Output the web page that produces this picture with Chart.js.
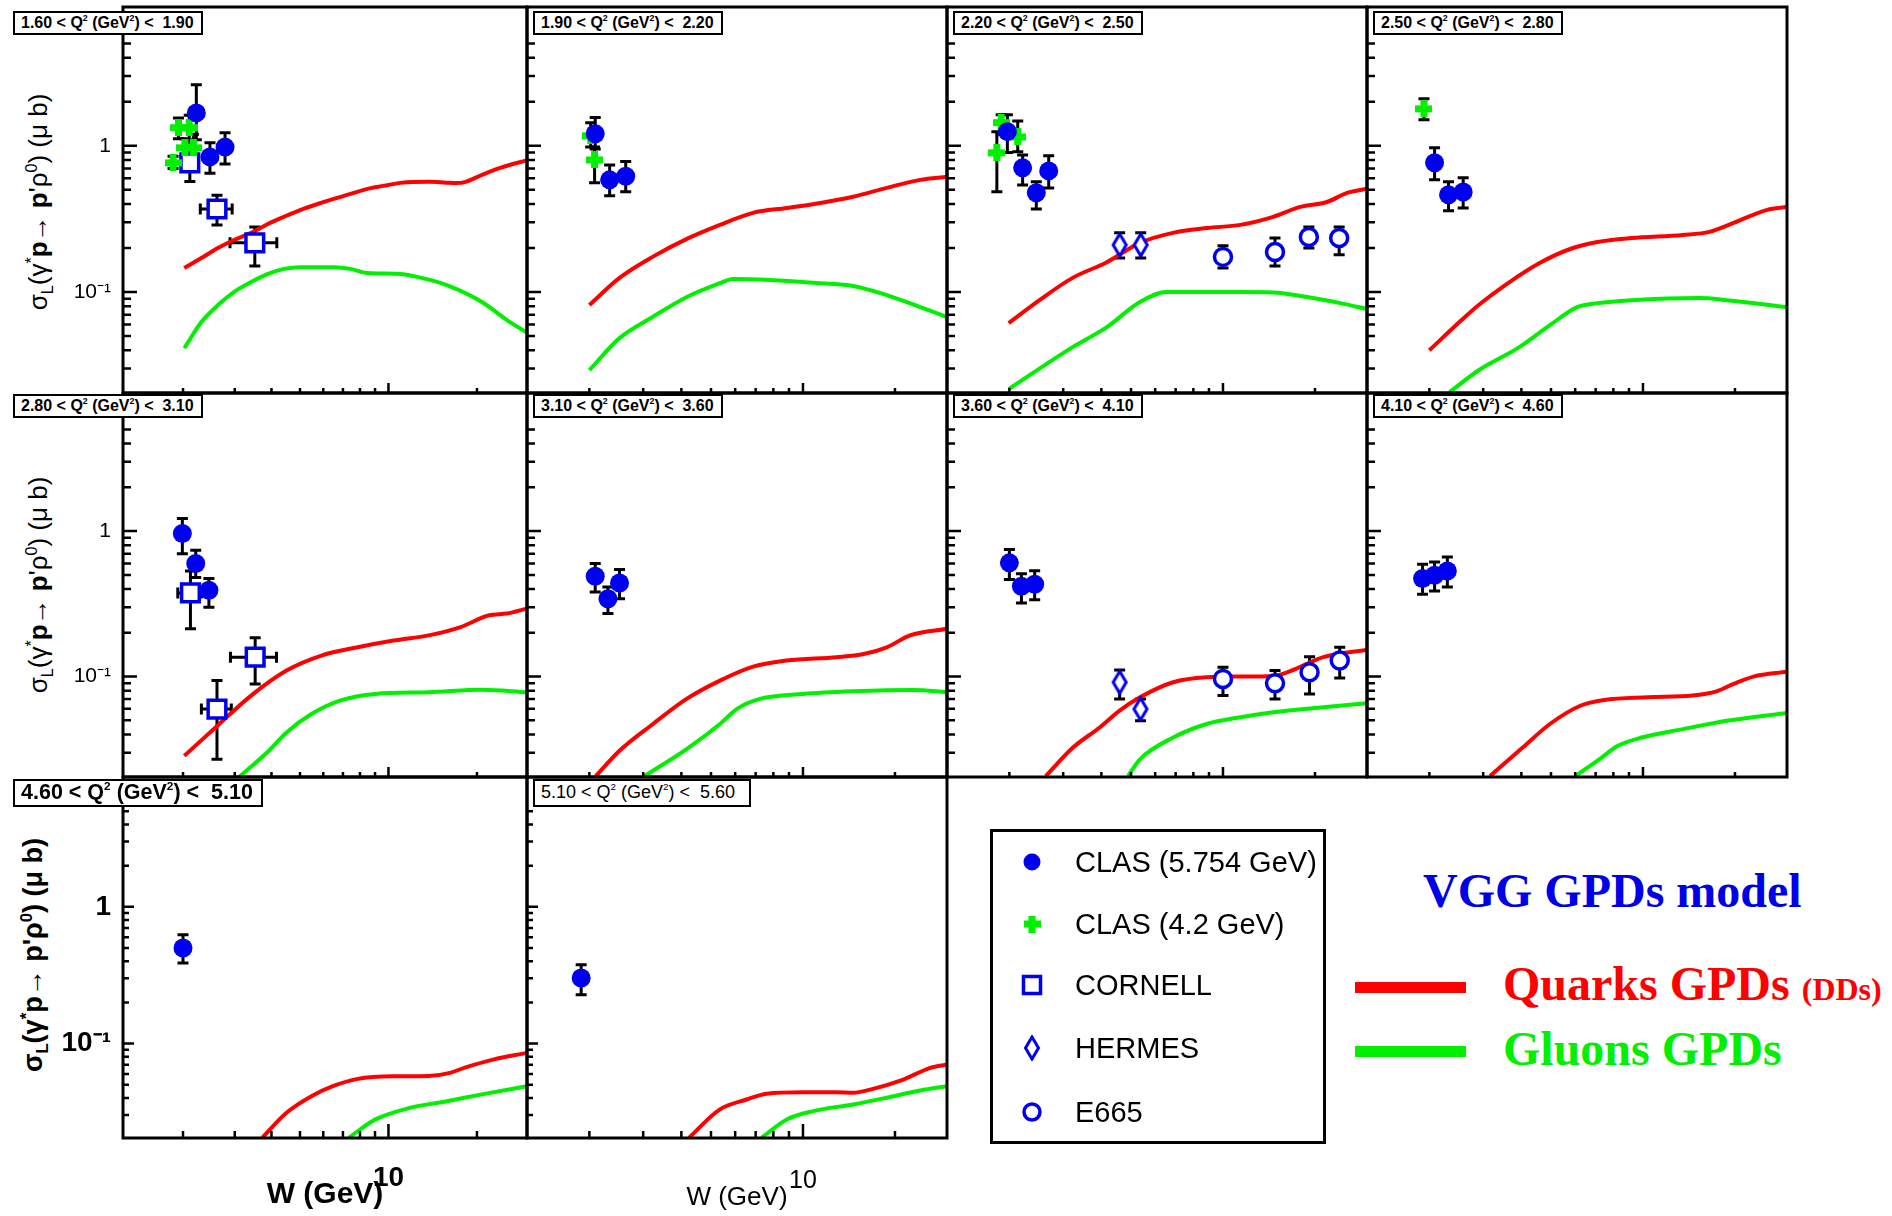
<!DOCTYPE html>
<html>
<head>
<meta charset="utf-8">
<title>sigma_L(gamma* p -> p rho0) vs W</title>
<script src="https://cdn.jsdelivr.net/npm/chart.js@4.4.1/dist/chart.umd.min.js"></script>
<style>
  html, body { margin: 0; padding: 0; background: #fff; }
  body { position: relative; width: 1892px; height: 1216px; overflow: hidden;
         font-family: "Liberation Sans", Arial, Helvetica, sans-serif; color: #000; }
  canvas { position: absolute; }
  .qbox { position: absolute; box-sizing: border-box; border: 2.5px solid #000; background: #fff;
          white-space: nowrap; padding-left: 6px; }
  .qbox sup { font-size: 55%; vertical-align: 0.8em; line-height: 0; }
  .ytitle { position: absolute; white-space: nowrap; transform: translate(-50%, -50%) rotate(-90deg); }
  .ytitle sub, .ytitle sup { font-size: 62%; line-height: 0; }
  #legend { position: absolute; left: 990px; top: 829px; width: 336px; height: 315px;
            box-sizing: border-box; border: 3px solid #000; }
  .lgtext { position: absolute; font-size: 29px; line-height: 34px; white-space: nowrap; }
  .model { position: absolute; font-family: "Liberation Serif", "Times New Roman", serif; font-weight: bold;
           white-space: nowrap; line-height: 48px; font-size: 48px; }
</style>
</head>
<body>

<div class="ytitle" style="left:38px; top:202px; font-size:26px;">σ<sub>L</sub>(γ<sup>*</sup><b>p</b>→ <b>p</b>'ρ<sup>0</sup>) (μ b)</div>
<div class="ytitle" style="left:38px; top:585px; font-size:26px;">σ<sub>L</sub>(γ<sup>*</sup><b>p</b>→ <b>p</b>'ρ<sup>0</sup>) (μ b)</div>
<div class="ytitle" style="left:33px; top:955px; font-size:27px; font-weight:bold;">σ<sub>L</sub>(γ<sup>*</sup>p→ p'ρ<sup>0</sup>) (μ b)</div>

<div id="legend"></div>
<canvas id="legendMarks" width="336" height="315" style="left:990px; top:829px;"></canvas>
<div class="lgtext" style="left:1075px; top:845px;">CLAS (5.754 GeV)</div>
<div class="lgtext" style="left:1075px; top:907px;">CLAS (4.2 GeV)</div>
<div class="lgtext" style="left:1075px; top:968px;">CORNELL</div>
<div class="lgtext" style="left:1075px; top:1031px;">HERMES</div>
<div class="lgtext" style="left:1075px; top:1095px;">E665</div>

<div class="model" style="left:1423px; top:867px; color:#0000e8;">VGG GPDs model</div>
<div id="qline" style="position:absolute; left:1355px; top:982px; width:111px; height:11px; background:#ff0000;"></div>
<div id="gline" style="position:absolute; left:1355px; top:1046px; width:111px; height:11px; background:#00f000;"></div>
<div class="model" style="left:1503px; top:960px; color:#ff0000;">Quarks GPDs <span style="font-size:32px;">(DDs)</span></div>
<div class="model" style="left:1503px; top:1025px; color:#00f000;">Gluons GPDs</div>

<script>
// Q^2 bin edges (GeV^2), one panel per bin
const Q2_EDGES = ['1.60', '1.90', '2.20', '2.50', '2.80', '3.10', '3.60', '4.10', '4.60', '5.10', '5.60'];

// axis ranges and ticks
const X_MIN = 1.25, X_MAX = 29.6;
const Y_MIN = 0.0204, Y_MAX = 8.9;
const X_TICKS = [10];
const X_TICK_TEXT = ['10'];
const X_MINOR = [2, 3, 4, 5, 6, 7, 8, 9, 20];
const Y_TICKS = [0.1, 1];
const Y_TICK_TEXT = ['10⁻¹', '1'];
const Y_MINOR = [0.03, 0.04, 0.05, 0.06, 0.07, 0.08, 0.09, 0.2, 0.3, 0.4, 0.5, 0.6, 0.7, 0.8, 0.9, 2, 3, 4, 5];

// data per panel: [W, sigma, sigmaLow, sigmaHigh, (Wlow, Whigh)]
const CLAS57 = [
  [[2.22, 1.68, 1.10, 2.62], [2.47, 0.84, 0.65, 1.05], [2.78, 0.98, 0.75, 1.23]],
  [[2.09, 1.21, 0.95, 1.56], [2.33, 0.585, 0.455, 0.74], [2.63, 0.62, 0.485, 0.78]],
  [[1.97, 1.25, 0.90, 1.63], [2.21, 0.707, 0.54, 0.867], [2.45, 0.477, 0.37, 0.567], [2.69, 0.674, 0.515, 0.854]],
  [[2.08, 0.765, 0.585, 0.97], [2.31, 0.462, 0.36, 0.567], [2.58, 0.484, 0.376, 0.604]],
  [[1.99, 0.964, 0.70, 1.22], [2.21, 0.599, 0.48, 0.74], [2.45, 0.392, 0.30, 0.472]],
  [[2.09, 0.49, 0.382, 0.60], [2.30, 0.343, 0.271, 0.413], [2.51, 0.44, 0.343, 0.545]],
  [[2.00, 0.605, 0.464, 0.748], [2.19, 0.418, 0.32, 0.51], [2.42, 0.431, 0.338, 0.533]],
  [[1.90, 0.472, 0.368, 0.592], [2.08, 0.497, 0.387, 0.614], [2.29, 0.532, 0.413, 0.665]],
  [[2.00, 0.50, 0.388, 0.625]],
  [[1.88, 0.302, 0.228, 0.377]]
];
const CLAS42 = [
  [[1.85, 0.765, 0.70, 0.85], [1.93, 1.33, 1.12, 1.55], [2.10, 1.33, 1.05, 1.62], [2.03, 0.97, 0.85, 1.12], [2.17, 0.97, 0.80, 1.20]],
  [[2.02, 1.17, 0.98, 1.44], [2.08, 0.80, 0.56, 0.98]],
  [[1.82, 0.895, 0.485, 1.25], [1.88, 1.44, 1.20, 1.63], [2.13, 1.15, 0.91, 1.48]],
  [[1.92, 1.79, 1.51, 2.10]],
  [], [], [], [], [], []
];
const CORNELL = [
  [[2.11, 0.765, 0.57, 0.90], [2.61, 0.37, 0.288, 0.46, 2.29, 2.94], [3.51, 0.217, 0.151, 0.279, 2.89, 4.17]],
  [], [], [],
  [[2.12, 0.376, 0.213, 0.532, 1.92, 2.31], [2.61, 0.0598, 0.027, 0.0938, 2.31, 2.92], [3.52, 0.136, 0.089, 0.185, 2.90, 4.16]],
  [], [], [], [], []
];
const HERMES = [
  [], [],
  [[4.59, 0.21, 0.171, 0.254], [5.38, 0.21, 0.171, 0.254]],
  [], [], [],
  [[4.59, 0.0914, 0.0702, 0.111], [5.37, 0.0598, 0.0497, 0.0702]],
  [], [], []
];
const E665 = [
  [], [],
  [[10.0, 0.174, 0.146, 0.207], [14.8, 0.188, 0.151, 0.234], [19.1, 0.238, 0.20, 0.279], [24.0, 0.234, 0.18, 0.279]],
  [], [], [],
  [[10.0, 0.0964, 0.0741, 0.116], [14.8, 0.090, 0.0702, 0.110], [19.2, 0.107, 0.076, 0.137], [24.1, 0.129, 0.0977, 0.159]],
  [], [], []
];

// VGG model curves: [W, sigma]
const QUARKS = [
  [[2.02, 0.146], [2.31, 0.171], [2.63, 0.20], [2.98, 0.227], [3.41, 0.254], [3.89, 0.292], [4.41, 0.327], [5.03, 0.365],
   [5.74, 0.40], [6.51, 0.434], [7.43, 0.469], [8.49, 0.508], [9.62, 0.532], [11.0, 0.558], [13.8, 0.567], [15.7, 0.560],
   [17.0, 0.556], [18.3, 0.567], [20.8, 0.633], [24.0, 0.707], [29.8, 0.80]],
  [[2.00, 0.0815], [2.51, 0.125], [3.22, 0.174], [4.17, 0.231], [5.35, 0.288], [6.86, 0.348], [8.87, 0.376], [11.4, 0.407],
   [14.6, 0.448], [18.8, 0.516], [24.2, 0.585], [29.6, 0.614]],
  [[1.99, 0.0613], [2.51, 0.088], [3.22, 0.125], [4.17, 0.160], [5.35, 0.217], [6.86, 0.254], [8.87, 0.274], [11.4, 0.288],
   [14.6, 0.327], [17.9, 0.382], [21.9, 0.413], [25.5, 0.477], [29.6, 0.508]],
  [[2.00, 0.040], [2.55, 0.0643], [2.90, 0.0815], [3.55, 0.112], [4.59, 0.158], [5.78, 0.197], [7.10, 0.22], [9.17, 0.234],
   [13.5, 0.246], [16.5, 0.258], [19.8, 0.297], [25.5, 0.365], [29.6, 0.382]],
  [[2.02, 0.0285], [2.58, 0.0447], [3.41, 0.074], [4.50, 0.110], [5.95, 0.140], [7.86, 0.159], [10.4, 0.177], [13.7, 0.192],
   [17.6, 0.219], [22.0, 0.264], [25.3, 0.271], [29.5, 0.293]],
  [[2.10, 0.0207], [2.51, 0.0309], [3.23, 0.0472], [4.16, 0.0702], [5.35, 0.0938], [6.87, 0.117], [8.85, 0.129], [12.9, 0.136],
   [15.8, 0.143], [18.8, 0.159], [22.4, 0.192], [29.7, 0.213]],
  [[2.63, 0.0207], [3.23, 0.0325], [3.95, 0.0447], [4.59, 0.0583], [5.35, 0.072], [6.87, 0.0914], [8.84, 0.0989], [11.4, 0.100],
   [14.6, 0.101], [16.6, 0.109], [21.3, 0.136], [29.7, 0.153]],
  [[3.16, 0.0207], [4.04, 0.0325], [4.96, 0.0472], [6.24, 0.063], [7.46, 0.069], [10.4, 0.072], [14.5, 0.074], [17.4, 0.0792],
   [19.8, 0.0891], [23.0, 0.100], [29.6, 0.108]],
  [[3.72, 0.0205], [4.50, 0.0312], [5.47, 0.0412], [6.47, 0.0488], [7.86, 0.0552], [10.4, 0.0577], [13.7, 0.058], [16.2, 0.0611],
   [18.1, 0.0665], [22.7, 0.0764], [29.5, 0.0855]],
  [[4.24, 0.0205], [5.35, 0.033], [6.54, 0.039], [7.60, 0.043], [10.0, 0.0441], [12.9, 0.0441], [14.6, 0.0437], [16.6, 0.0461],
   [21.3, 0.0546], [26.1, 0.0665], [29.7, 0.0703]]
];
const GLUONS = [
  [[2.02, 0.0413], [2.31, 0.0623], [2.63, 0.0815], [2.98, 0.100], [3.41, 0.117], [3.89, 0.133], [4.41, 0.144], [5.03, 0.148],
   [6.51, 0.148], [7.43, 0.144], [8.49, 0.135], [11.0, 0.133], [12.5, 0.127], [15.7, 0.112], [20.8, 0.0855], [25.3, 0.0643], [29.8, 0.0524]],
  [[2.00, 0.0292], [2.51, 0.0484], [3.22, 0.0675], [4.17, 0.0925], [5.35, 0.115], [5.89, 0.123], [7.8, 0.121], [11.4, 0.115],
   [14.6, 0.110], [18.8, 0.0953], [24.2, 0.0789], [29.6, 0.0675]],
  [[1.99, 0.0217], [3.22, 0.042], [4.17, 0.0576], [5.35, 0.0855], [6.55, 0.100], [11.4, 0.100], [14.6, 0.0993], [18.8, 0.0925],
   [24.2, 0.084], [29.6, 0.0765]],
  [[2.33, 0.0207], [2.90, 0.0292], [3.94, 0.042], [4.96, 0.0594], [6.09, 0.0789], [7.10, 0.084], [9.17, 0.088], [15.3, 0.091],
   [18.8, 0.088], [29.6, 0.0789]],
  [[3.09, 0.0202], [3.92, 0.0309], [4.50, 0.0413], [5.47, 0.0553], [6.84, 0.0683], [9.03, 0.076], [13.7, 0.078], [20.8, 0.0813], [29.5, 0.078]],
  [[3.03, 0.0207], [4.16, 0.0317], [5.35, 0.0472], [6.07, 0.0598], [7.23, 0.0702], [10.0, 0.0759], [14.6, 0.0792], [23.0, 0.081], [29.7, 0.078]],
  [[4.89, 0.0207], [5.35, 0.027], [6.87, 0.0381], [8.84, 0.0472], [11.4, 0.0525], [14.6, 0.0568], [21.3, 0.0615], [29.7, 0.0655]],
  [[6.01, 0.0207], [7.10, 0.0264], [8.28, 0.0334], [9.9, 0.0381], [13.5, 0.0435], [18.8, 0.0497], [29.6, 0.0562]],
  [[7.33, 0.0205], [9.03, 0.0279], [11.9, 0.034], [15.8, 0.0379], [20.8, 0.0425], [29.5, 0.0488]],
  [[7.32, 0.0205], [8.85, 0.0279], [10.8, 0.0321], [14.6, 0.0359], [18.8, 0.0402], [24.2, 0.0454], [29.7, 0.0488]]
];

// Colours
const BLUE = '#0000f0';
const GREEN = '#00f000';
const RED = '#ff0000';

// Layout: plot-area edges of the 4x3 grid (px)
const COL_X = [123, 527, 947, 1367, 1787];
const ROW_Y = [7, 393, 777, 1138];
const PAGE_H = 1216;

Chart.defaults.font.family = '"Liberation Sans", Arial, Helvetica, sans-serif';
Chart.defaults.color = '#000';

// Marker images
function plusImage(color) {
    const c = document.createElement('canvas');
    c.width = 17; c.height = 17;
    const g = c.getContext('2d');
    g.fillStyle = color;
    g.fillRect(0, 5, 17, 7);
    g.fillRect(5, 0, 7, 17);
    return c;
}

function diamondImage(color) {
    const c = document.createElement('canvas');
    c.width = 18; c.height = 26;
    const g = c.getContext('2d');
    g.strokeStyle = color;
    g.fillStyle = '#fff';
    g.lineWidth = 3;
    g.beginPath();
    g.moveTo(9, 2); g.lineTo(15.5, 13); g.lineTo(9, 24); g.lineTo(2.5, 13);
    g.closePath();
    g.fill();
    g.stroke();
    return c;
}

const PLUS = plusImage(GREEN);
const DIAMOND = diamondImage(BLUE);

// Error bars with caps, drawn under the markers
const errorBars = {
    id: 'errorBars',
    beforeDatasetsDraw(chart) {
        const { ctx, scales: { x, y } } = chart;
        const cap = 5.5;
        ctx.save();
        ctx.strokeStyle = '#000';
        ctx.lineWidth = 3;
        chart.data.datasets.forEach(ds => {
            if (!ds.errors) return;
            ds.errors.forEach((e, i) => {
                const px = x.getPixelForValue(ds.data[i].x);
                const py = y.getPixelForValue(ds.data[i].y);
                ctx.beginPath();
                if (e.yl != null) {
                    const y1 = y.getPixelForValue(e.yl), y2 = y.getPixelForValue(e.yh);
                    ctx.moveTo(px, y1); ctx.lineTo(px, y2);
                    ctx.moveTo(px - cap, y1); ctx.lineTo(px + cap, y1);
                    ctx.moveTo(px - cap, y2); ctx.lineTo(px + cap, y2);
                }
                if (e.xl != null) {
                    const x1 = x.getPixelForValue(e.xl), x2 = x.getPixelForValue(e.xh);
                    ctx.moveTo(x1, py); ctx.lineTo(x2, py);
                    ctx.moveTo(x1, py - cap); ctx.lineTo(x1, py + cap);
                    ctx.moveTo(x2, py - cap); ctx.lineTo(x2, py + cap);
                }
                ctx.stroke();
            });
        });
        ctx.restore();
    }
};

// Frame and inward ticks (ROOT style)
const frame = {
    id: 'frame',
    afterDraw(chart, args, opts) {
        const { ctx, chartArea: a, scales: { x, y } } = chart;
        const yMaj = opts.big ? 11 : 14, yMin = opts.big ? 6 : 8;
        const xMaj = opts.big ? 14 : 10, xMin = opts.big ? 7 : 5;
        ctx.save();
        ctx.strokeStyle = '#000';
        ctx.lineWidth = 2.5;
        ctx.beginPath();
        const yt = (v, len) => {
            const py = y.getPixelForValue(v);
            if (py < a.top + 2 || py > a.bottom - 2) return;
            ctx.moveTo(a.left, py); ctx.lineTo(a.left + len, py);
        };
        const xt = (v, len) => {
            const px = x.getPixelForValue(v);
            if (px < a.left + 2 || px > a.right - 2) return;
            ctx.moveTo(px, a.bottom); ctx.lineTo(px, a.bottom - len);
        };
        Y_TICKS.forEach(v => yt(v, yMaj));
        Y_MINOR.forEach(v => yt(v, yMin));
        X_TICKS.forEach(v => xt(v, xMaj));
        X_MINOR.forEach(v => xt(v, xMin));
        ctx.stroke();
        ctx.lineWidth = 3;
        ctx.strokeRect(a.left, a.top, a.right - a.left, a.bottom - a.top);
        ctx.restore();
    }
};

function pts(list) {
    return list.map(p => ({ x: p[0], y: p[1] }));
}

function errs(list) {
    return list.map(p => ({ yl: p[2], yh: p[3], xl: p[4], xh: p[5] }));
}

function buildDatasets(p) {
    const sets = [];
    const add = (list, style) => {
        if (list && list.length) sets.push(Object.assign({ data: pts(list), errors: errs(list) }, style));
    };
    add(CLAS57[p], { pointStyle: 'circle', pointRadius: 9.5, backgroundColor: BLUE, borderColor: BLUE, borderWidth: 0 });
    add(CLAS42[p], { pointStyle: PLUS, pointRadius: 8, backgroundColor: GREEN, borderWidth: 0 });
    add(CORNELL[p], { pointStyle: 'rect', pointRadius: 12.5, backgroundColor: '#fff', borderColor: BLUE, borderWidth: 3.5 });
    add(HERMES[p], { pointStyle: DIAMOND, pointRadius: 9 });
    add(E665[p], { pointStyle: 'circle', pointRadius: 8.5, backgroundColor: '#fff', borderColor: BLUE, borderWidth: 3.5 });
    const curve = { showLine: true, borderWidth: 4, pointRadius: 0, clip: 0, cubicInterpolationMode: 'monotone' };
    sets.push(Object.assign({ data: pts(QUARKS[p]), borderColor: RED }, curve));
    sets.push(Object.assign({ data: pts(GLUONS[p]), borderColor: GREEN }, curve));
    return sets;
}

function makePanel(p) {
    const col = p % 4, row = Math.floor(p / 4);
    const L = COL_X[col], R = COL_X[col + 1], T = ROW_Y[row], B = ROW_Y[row + 1];
    const M = 4;
    const big = row === 2;
    const cl = col === 0 ? 0 : L - M;
    const ct = T - M;
    const cr = R + M;
    const cb = big ? PAGE_H : B + M;

    const canvas = document.createElement('canvas');
    canvas.width = cr - cl;
    canvas.height = cb - ct;
    canvas.style.left = cl + 'px';
    canvas.style.top = ct + 'px';
    canvas.style.width = (cr - cl) + 'px';
    canvas.style.height = (cb - ct) + 'px';
    document.body.appendChild(canvas);

    new Chart(canvas, {
        type: 'scatter',
        data: { datasets: buildDatasets(p) },
        options: {
            responsive: false,
            animation: false,
            events: [],
            layout: {
                autoPadding: false,
                padding: { left: col === 0 ? 0 : M, right: M, top: M, bottom: big ? 0 : M }
            },
            plugins: {
                legend: { display: false },
                tooltip: { enabled: false },
                frame: { big }
            },
            scales: {
                x: {
                    type: 'logarithmic',
                    min: X_MIN,
                    max: X_MAX,
                    display: big,
                    grid: { display: false },
                    border: { display: false },
                    afterBuildTicks: s => { s.ticks = X_TICKS.map(v => ({ value: v })); },
                    afterFit: s => {
                        if (big) s.height = PAGE_H - B;
                        s.paddingLeft = 0; s.paddingRight = 0;
                    },
                    ticks: {
                        autoSkip: false,
                        maxRotation: 0,
                        padding: col === 0 ? 15 : 20,
                        font: col === 0 ? { size: 28, weight: 'bold' } : { size: 25 },
                        callback: v => X_TICK_TEXT[X_TICKS.indexOf(v)]
                    },
                    title: {
                        display: true,
                        text: 'W (GeV)',
                        font: col === 0 ? { size: 30, weight: 'bold' } : { size: 26 },
                        padding: { top: 0, bottom: 3 }
                    }
                },
                y: {
                    type: 'logarithmic',
                    min: Y_MIN,
                    max: Y_MAX,
                    display: col === 0,
                    grid: { display: false },
                    border: { display: false },
                    afterBuildTicks: s => { s.ticks = Y_TICKS.map(v => ({ value: v })); },
                    afterFit: s => {
                        if (col === 0) s.width = L - cl;
                        s.paddingTop = 0; s.paddingBottom = 0;
                    },
                    ticks: {
                        autoSkip: false,
                        padding: 4,
                        font: big ? { size: 28, weight: 'bold' } : { size: 21 },
                        callback: v => Y_TICK_TEXT[Y_TICKS.indexOf(v)]
                    }
                }
            }
        },
        plugins: [errorBars, frame]
    });

    // Q^2 bin label box
    const box = document.createElement('div');
    box.className = 'qbox';
    box.innerHTML = Q2_EDGES[p] + ' &lt; Q<sup>2</sup> (GeV<sup>2</sup>) &lt;&nbsp; ' + Q2_EDGES[p + 1];
    const boxTop = [11, 394, 779][row];
    let w = 190, h = 24, fs = 16, fw = 'bold';
    if (big) {
        h = 28;
        w = col === 0 ? 250 : 218;
        fs = col === 0 ? 21.5 : 18;
        fw = col === 0 ? 'bold' : 'normal';
    }
    box.style.left = (col === 0 ? 13 : L + 6) + 'px';
    box.style.top = boxTop + 'px';
    box.style.width = w + 'px';
    box.style.height = h + 'px';
    box.style.fontSize = fs + 'px';
    box.style.fontWeight = fw;
    box.style.lineHeight = (h - 5) + 'px';
    document.body.appendChild(box);
}

for (let p = 0; p < 10; p++) makePanel(p);

// Legend markers
function drawLegendMarkers() {
    const g = document.getElementById('legendMarks').getContext('2d');
    const mx = 42;
    // CLAS 5.754
    g.fillStyle = BLUE;
    g.beginPath(); g.arc(mx, 33, 8.5, 0, Math.PI * 2); g.fill();
    // CLAS 4.2
    g.drawImage(PLUS, mx - 8.5, 95 - 8.5);
    // CORNELL
    g.strokeStyle = BLUE; g.lineWidth = 3.5;
    g.strokeRect(mx - 8.5, 156 - 8.5, 17, 17);
    // HERMES
    g.drawImage(DIAMOND, mx - 9, 219 - 13);
    // E665
    g.beginPath(); g.arc(mx, 283, 8, 0, Math.PI * 2); g.stroke();
}
drawLegendMarkers();
</script>
</body>
</html>
